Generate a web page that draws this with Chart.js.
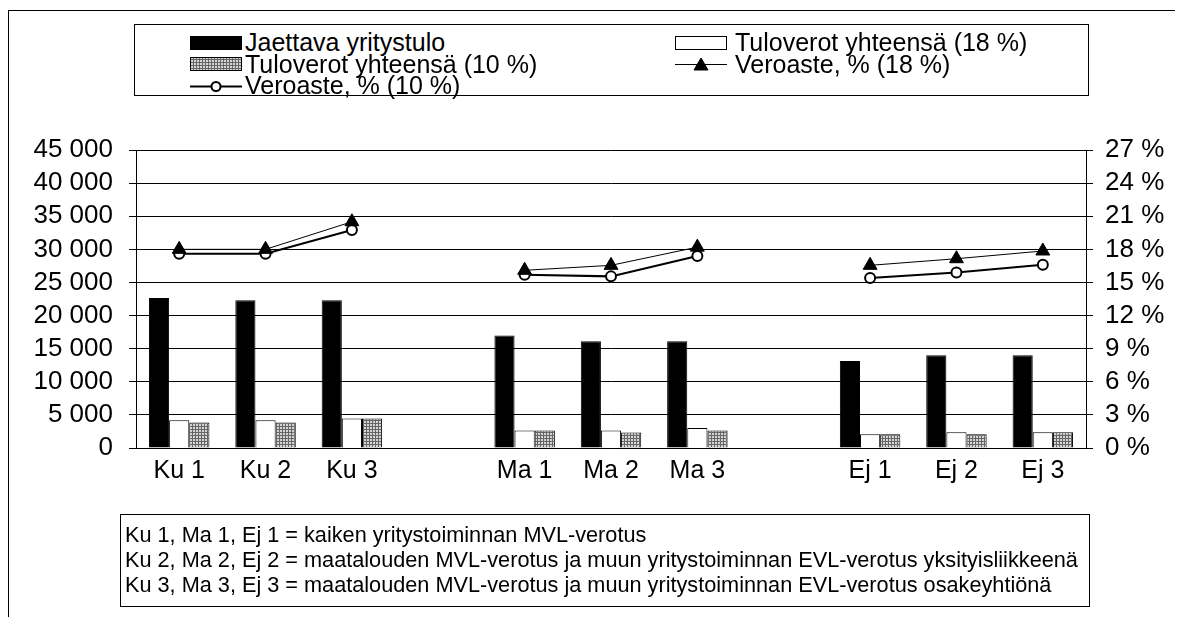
<!DOCTYPE html>
<html>
<head>
<meta charset="utf-8">
<script src="https://cdn.jsdelivr.net/npm/chart.js@4"></script>
<style>
  body { margin: 0; background: #fff; }
  #wrap { position: relative; width: 1182px; height: 617px; overflow: hidden; font-family: "Liberation Sans", Arial, sans-serif; color: #000; }
  #frame { position: absolute; left: 8px; top: 10px; width: 1166px; height: 700px; border-top: 1px solid #000; border-left: 1px solid #000; }
  canvas#chart { position: absolute; left: 0; top: 0; }
  #legend { position: absolute; left: 134px; top: 24px; width: 955px; height: 72px; border: 1px solid #000; background: #fff;
            display: grid; grid-template-columns: 485px auto; grid-auto-rows: 21.5px; padding: 7px 0 0 55px; box-sizing: border-box; }
  #legend .item { display: flex; align-items: center; font-size: 25px; white-space: nowrap; line-height: 21.5px; }
  #legend canvas { margin-right: 3px; }
  #legend .item:nth-child(even) canvas { margin-right: 8px; }
  #note { position: absolute; left: 120px; top: 514px; width: 970px; height: 93px; border: 1px solid #000; box-sizing: border-box;
          padding: 7px 0 0 4px; font-size: 21.7px; line-height: 25px; white-space: nowrap; }
</style>
</head>
<body>
<div id="wrap">
  <div id="frame"></div>
  <canvas id="chart" width="1182" height="617"></canvas>
  <div id="legend"></div>
  <div id="note">
    <div>Ku 1, Ma 1, Ej 1 = kaiken yritystoiminnan MVL-verotus</div>
    <div>Ku 2, Ma 2, Ej 2 = maatalouden MVL-verotus ja muun yritystoiminnan EVL-verotus yksityisliikkeenä</div>
    <div>Ku 3, Ma 3, Ej 3 = maatalouden MVL-verotus ja muun yritystoiminnan EVL-verotus osakeyhtiönä</div>
  </div>
</div>
<script>
// -----------------------------
// Data
// -----------------------------
const categories = ["Ku 1", "Ku 2", "Ku 3", "", "Ma 1", "Ma 2", "Ma 3", "", "Ej 1", "Ej 2", "Ej 3"];
const jaettavaTulo = [22650, 22300, 22300, null, 16980, 16120, 16120, null, 13140, 14000, 14000];
const verot18 = [4180, 4180, 4440, null, 2630, 2630, 3020, null, 2070, 2370, 2370];
const verot10 = [3840, 3840, 4440, null, 2630, 2330, 2630, null, 2070, 2070, 2370];
const veroaste18 = [18.0, 18.0, 20.5, null, 16.1, 16.55, 18.2, null, 16.55, 17.15, 17.85];
const veroaste10 = [17.6, 17.6, 19.75, null, 15.7, 15.55, 17.4, null, 15.4, 15.9, 16.6];

const leftMax = 45000, leftStep = 5000;
const rightMax = 27, rightStep = 3;

const FONT = "'Liberation Sans', Arial, sans-serif";

// -----------------------------
// Grey grid pattern for the 10 % bars
// -----------------------------
function makePattern() {
    const c = document.createElement("canvas");
    c.width = 3; c.height = 3;
    const g = c.getContext("2d");
    g.fillStyle = "#d4d4d4";
    g.fillRect(0, 0, 3, 3);
    g.fillStyle = "#666";
    g.fillRect(0, 0, 3, 1);
    g.fillRect(0, 0, 1, 3);
    return g.createPattern(c, "repeat");
}
const greyPattern = makePattern();

function thousands(v) {
    return String(v).replace(/\B(?=(\d{3})+(?!\d))/g, " ");
}

// -----------------------------
// Chart
// -----------------------------
const ctx = document.getElementById("chart").getContext("2d");
const chart = new Chart(ctx, {
    type: "bar",
    data: {
        labels: categories,
        datasets: [
            { label: "Jaettava yritystulo", data: jaettavaTulo, backgroundColor: "#000", borderColor: "#000", borderWidth: 1, yAxisID: "y", order: 2 },
            { label: "Tuloverot yhteensä (18 %)", data: verot18, backgroundColor: "#fff", borderColor: "#000", borderWidth: 1, yAxisID: "y", order: 2 },
            { label: "Tuloverot yhteensä (10 %)", data: verot10, backgroundColor: greyPattern, borderColor: "#000", borderWidth: 1, yAxisID: "y", order: 2 },
            { type: "line", label: "Veroaste, % (18 %)", data: veroaste18, yAxisID: "y1", order: 0,
              borderColor: "#000", borderWidth: 1, backgroundColor: "#000",
              pointStyle: "triangle", pointRadius: 8, pointBorderWidth: 1, pointBackgroundColor: "#000", spanGaps: false },
            { type: "line", label: "Veroaste, % (10 %)", data: veroaste10, yAxisID: "y1", order: 1,
              borderColor: "#000", borderWidth: 2, backgroundColor: "#fff",
              pointStyle: "circle", pointRadius: 5, pointBorderWidth: 2, pointBackgroundColor: "#fff", spanGaps: false }
        ]
    },
    options: {
        responsive: false,
        animation: false,
        layout: { padding: { top: 150, left: 0, right: 0, bottom: 0 } },
        plugins: { legend: { display: false }, tooltip: { enabled: false } },
        datasets: { bar: { categoryPercentage: 0.7, barPercentage: 1.0 } },
        scales: {
            x: {
                grid: { display: false, drawTicks: false },
                border: { display: true, color: "#000", width: 1 },
                ticks: { color: "#000", font: { family: FONT, size: 25 }, padding: 8, maxRotation: 0, autoSkip: false },
                afterFit: s => { s.height = 617 - 448; }
            },
            y: {
                position: "left",
                min: 0, max: leftMax,
                grid: { color: "#000", lineWidth: 1, tickLength: 7 },
                border: { display: true, color: "#000", width: 1 },
                ticks: { stepSize: leftStep, autoSkip: false, color: "#000", font: { family: FONT, size: 26 }, padding: 16, callback: v => thousands(v) },
                afterFit: s => { s.width = 136; }
            },
            y1: {
                position: "right",
                min: 0, max: rightMax,
                grid: { drawOnChartArea: false, color: "#000", tickLength: 7 },
                border: { display: true, color: "#000", width: 1 },
                ticks: { stepSize: rightStep, autoSkip: false, color: "#000", font: { family: FONT, size: 26 }, padding: 12, callback: v => v + " %" },
                afterFit: s => { s.width = 1182 - 1086; }
            }
        }
    }
});

// -----------------------------
// Legend box (2 columns, row by row)
// -----------------------------
function drawSwatch(ds) {
    const c = document.createElement("canvas");
    c.width = 52; c.height = 16;
    const g = c.getContext("2d");
    if (ds.type === "line") {
        g.strokeStyle = "#000";
        g.lineWidth = ds.borderWidth;
        g.beginPath(); g.moveTo(0, 8.5); g.lineTo(52, 8.5); g.stroke();
        g.fillStyle = ds.pointBackgroundColor;
        g.lineWidth = ds.pointBorderWidth;
        g.beginPath();
        if (ds.pointStyle === "triangle") {
            g.moveTo(26, 2); g.lineTo(33, 14); g.lineTo(19, 14); g.closePath();
        } else {
            g.arc(26, 8.5, 4.5, 0, Math.PI * 2);
        }
        g.fill(); g.stroke();
    } else {
        g.fillStyle = ds.backgroundColor;
        g.fillRect(0.5, 1.5, 51, 13);
        g.strokeStyle = ds.borderColor;
        g.lineWidth = 1;
        g.strokeRect(0.5, 1.5, 51, 13);
    }
    return c;
}

const legendEl = document.getElementById("legend");
chart.data.datasets.forEach(ds => {
    const item = document.createElement("div");
    item.className = "item";
    item.appendChild(drawSwatch(ds));
    const span = document.createElement("span");
    span.textContent = ds.label;
    item.appendChild(span);
    legendEl.appendChild(item);
});
</script>
</body>
</html>
